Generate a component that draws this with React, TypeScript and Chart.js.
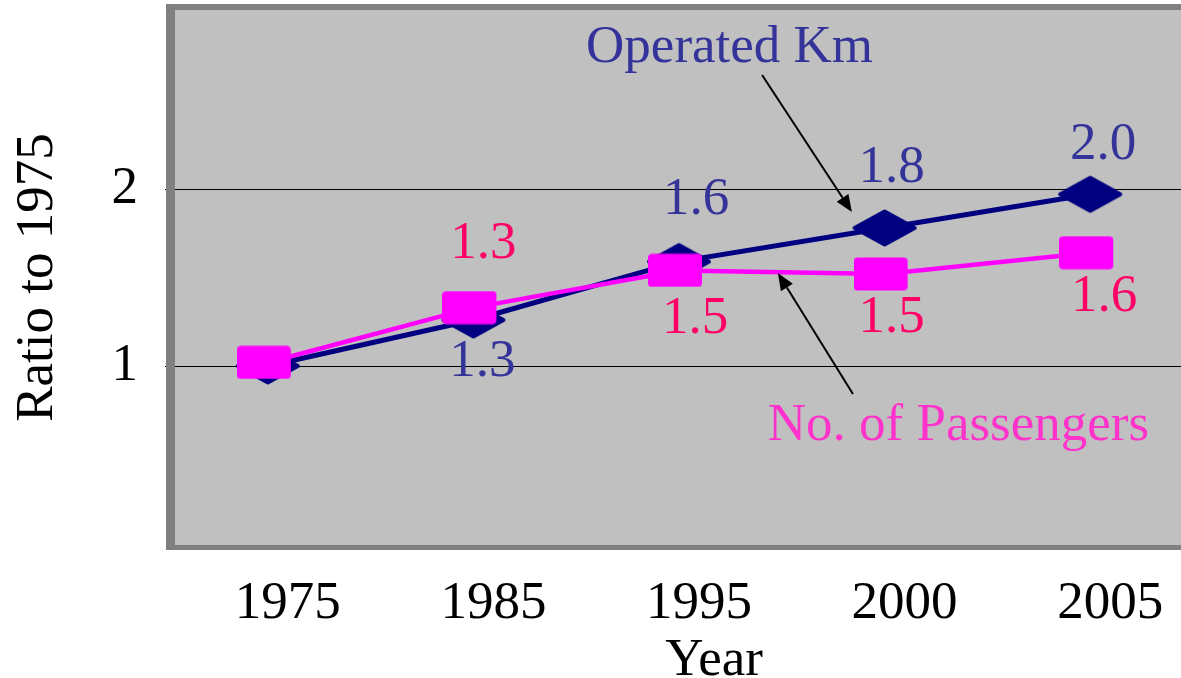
import React, { useEffect, useRef } from "react";
import { Chart, registerables } from "chart.js";

Chart.register(...registerables);

// ---- data ----
const years = ["1975", "1985", "1995", "2000", "2005"];
const operatedKm = [1.0, 1.26, 1.59, 1.78, 1.97];
const passengers = [1.02, 1.33, 1.54, 1.52, 1.64];
const yTickValues = [1, 2];
const yAxisTitle = "Ratio to 1975";
const xAxisTitle = "Year";
const kmName = "Operated Km";
const paxName = "No. of Passengers";

// ---- styles / placement ----
const FONT = '"Liberation Serif", "Times New Roman", Times, serif';
const NAVY = "#000080";
const MAGENTA = "#FF00FF";
const KM_TEXT = "#333399";
const PAX_LABEL = "#FF0066";
const PAX_TEXT = "#FF33CC";

// per-point value-label placement: [dx, dy] from point to text baseline (null = no label)
const kmLabelPlacement: ([number, number] | null)[] = [null, [9, 56], [17, -48], [7, -46], [13, -35]];
const paxLabelPlacement: ([number, number] | null)[] = [null, [10, -50], [16, 63], [7, 58], [14, 58]];

// annotations anchored in data space (category index, value)
const kmNamePos = { x: 2.246, y: 2.718 };
const paxNamePos = { x: 3.359, y: 0.582 };
const kmArrow = { from: { x: 2.404, y: 2.644 }, to: { x: 2.841, y: 1.87 } };
const paxArrow = { from: { x: 2.846, y: 0.842 }, to: { x: 2.481, y: 1.525 } };

function makeDiamond(): HTMLCanvasElement {
  const c = document.createElement("canvas");
  c.width = 66;
  c.height = 40;
  const g = c.getContext("2d")!;
  g.fillStyle = NAVY;
  g.strokeStyle = NAVY;
  g.lineJoin = "round";
  g.lineWidth = 4;
  g.beginPath();
  g.moveTo(33, 3.5);
  g.lineTo(63, 20);
  g.lineTo(33, 36.5);
  g.lineTo(3, 20);
  g.closePath();
  g.fill();
  g.stroke();
  return c;
}

function makeSquare(): HTMLCanvasElement {
  const c = document.createElement("canvas");
  c.width = 62;
  c.height = 34;
  const g = c.getContext("2d")!;
  g.fillStyle = MAGENTA;
  const x = 0, y = 0.5, w = 54, h = 33, r = 4;
  g.beginPath();
  g.moveTo(x + r, y);
  g.lineTo(x + w - r, y);
  g.arcTo(x + w, y, x + w, y + r, r);
  g.lineTo(x + w, y + h - r);
  g.arcTo(x + w, y + h, x + w - r, y + h, r);
  g.lineTo(x + r, y + h);
  g.arcTo(x, y + h, x, y + h - r, r);
  g.lineTo(x, y + r);
  g.arcTo(x, y, x + r, y, r);
  g.closePath();
  g.fill();
  return c;
}

const framePlugin = {
  id: "frame",
  beforeDraw(chart: any) {
    const { ctx, chartArea: a } = chart;
    ctx.save();
    ctx.fillStyle = "#C0C0C0";
    ctx.fillRect(a.left + 10, a.top - 2, a.right - a.left, a.bottom - a.top + 4);
    ctx.restore();
  },
  beforeDatasetsDraw(chart: any) {
    const { ctx, chartArea: a } = chart;
    ctx.save();
    ctx.fillStyle = "#808080";
    ctx.fillRect(a.left + 1, a.top - 8, a.right, 6);
    ctx.fillRect(a.left + 1, a.top - 8, 9, a.bottom - a.top + 15);
    ctx.fillRect(a.left + 1, a.bottom + 2, a.right, 5);
    ctx.restore();
  },
};

function drawArrow(ctx: CanvasRenderingContext2D, x1: number, y1: number, x2: number, y2: number) {
  const ang = Math.atan2(y2 - y1, x2 - x1);
  const len = 17;
  const half = 7;
  const bx = x2 - len * Math.cos(ang);
  const by = y2 - len * Math.sin(ang);
  ctx.strokeStyle = "#000";
  ctx.fillStyle = "#000";
  ctx.lineWidth = 2;
  ctx.beginPath();
  ctx.moveTo(x1, y1);
  ctx.lineTo(bx, by);
  ctx.stroke();
  ctx.beginPath();
  ctx.moveTo(x2, y2);
  ctx.lineTo(bx + half * Math.sin(ang), by - half * Math.cos(ang));
  ctx.lineTo(bx - half * Math.sin(ang), by + half * Math.cos(ang));
  ctx.closePath();
  ctx.fill();
}

const annotationPlugin = {
  id: "annotations",
  afterDatasetsDraw(chart: any) {
    const { ctx } = chart;
    const xs = chart.scales.x;
    const ys = chart.scales.y;
    const px = (p: { x: number; y: number }) => [xs.getPixelForValue(p.x), ys.getPixelForValue(p.y)];
    ctx.save();
    ctx.font = `53px ${FONT}`;
    ctx.textAlign = "center";
    ctx.textBaseline = "alphabetic";

    const drawLabels = (dsIndex: number, values: number[], placement: ([number, number] | null)[], color: string) => {
      const meta = chart.getDatasetMeta(dsIndex);
      ctx.fillStyle = color;
      values.forEach((v, i) => {
        const pl = placement[i];
        if (!pl) return;
        const el = meta.data[i];
        ctx.fillText(v.toFixed(1), el.x + pl[0], el.y + pl[1]);
      });
    };
    drawLabels(1, operatedKm, kmLabelPlacement, KM_TEXT);
    drawLabels(0, passengers, paxLabelPlacement, PAX_LABEL);

    let [tx, ty] = px(kmNamePos);
    ctx.fillStyle = KM_TEXT;
    ctx.fillText(kmName, tx, ty);
    [tx, ty] = px(paxNamePos);
    ctx.fillStyle = PAX_TEXT;
    ctx.fillText(paxName, tx, ty);

    const [a1, b1] = px(kmArrow.from);
    const [a2, b2] = px(kmArrow.to);
    drawArrow(ctx, a1, b1, a2, b2);
    const [c1, d1] = px(paxArrow.from);
    const [c2, d2] = px(paxArrow.to);
    drawArrow(ctx, c1, d1, c2, d2);

    // x-axis title
    ctx.fillStyle = "#000";
    ctx.fillText(xAxisTitle, (xs.left + xs.right) / 2 + 35, xs.bottom - 25);
    ctx.restore();
  },
};

export default function App() {
  const ref = useRef<HTMLCanvasElement>(null);

  useEffect(() => {
    if (!ref.current) return;
    const diamond = makeDiamond();
    const square = makeSquare();
    const chart = new Chart(ref.current, {
      type: "line",
      data: {
        labels: years,
        datasets: [
          {
            label: paxName,
            data: passengers,
            borderColor: MAGENTA,
            backgroundColor: MAGENTA,
            borderWidth: 4.5,
            pointStyle: square as any,
            pointRadius: 20,
            tension: 0,
            fill: false,
          },
          {
            label: kmName,
            data: operatedKm,
            borderColor: NAVY,
            backgroundColor: NAVY,
            borderWidth: 5,
            pointStyle: diamond as any,
            pointRadius: 20,
            tension: 0,
            fill: false,
          },
        ],
      },
      options: {
        responsive: false,
        animation: false,
        layout: { autoPadding: false, padding: { left: 0, right: 9, top: 12, bottom: 0 } },
        plugins: {
          legend: { display: false },
          tooltip: { enabled: false },
          title: { display: false },
        },
        scales: {
          x: {
            type: "category",
            offset: true,
            grid: { display: false, drawTicks: false },
            border: { display: false },
            ticks: {
              font: { family: FONT, size: 53 },
              color: "#000",
              padding: 29,
              labelOffset: 20,
              maxRotation: 0,
              autoSkip: false,
            },
            afterFit: (s: any) => {
              s.height = 157;
              s.paddingLeft = 0;
              s.paddingRight = 0;
            },
          },
          y: {
            min: 0,
            max: 3,
            grid: { color: "#000", lineWidth: 1, drawTicks: false },
            border: { display: false },
            afterBuildTicks: (s: any) => {
              s.ticks = yTickValues.map((v) => ({ value: v }));
            },
            ticks: {
              font: { family: FONT, size: 53 },
              color: "#000",
              padding: 27,
              callback: (v: any) => String(v),
            },
            title: {
              display: true,
              text: yAxisTitle,
              font: { family: FONT, size: 53 },
              color: "#000",
              padding: { top: 6, bottom: 0 },
            },
            afterFit: (s: any) => {
              s.width = 165;
              s.paddingTop = 0;
              s.paddingBottom = 0;
            },
          },
        },
      } as any,
      plugins: [framePlugin, annotationPlugin],
    });
    return () => chart.destroy();
  }, []);

  return (
    <div
      style={{
        position: "absolute",
        left: 0,
        top: 0,
        width: 1181,
        height: 678,
        overflow: "hidden",
        background: "#fff",
      }}
    >
      <canvas ref={ref} width={1202} height={700} style={{ display: "block" }} />
    </div>
  );
}
